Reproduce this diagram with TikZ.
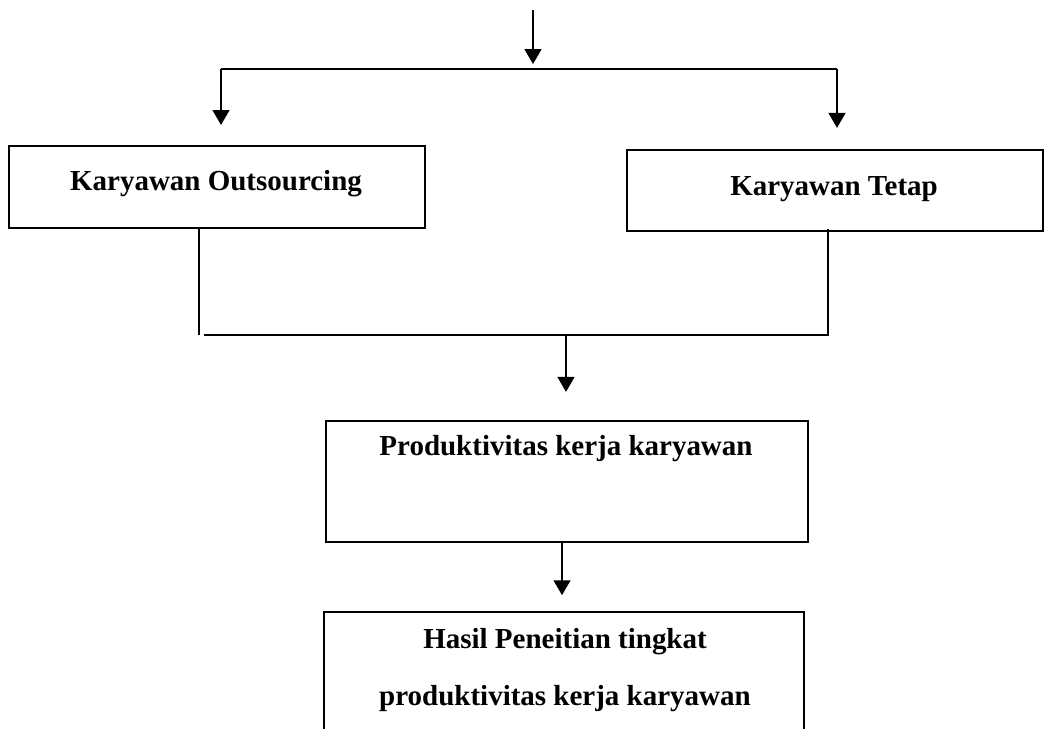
\documentclass[tikz,border=0pt]{standalone}
\usepackage{fontspec}
\setmainfont{Liberation Serif}
\usetikzlibrary{arrows.meta,positioning}

\tikzset{
  box/.style={draw,line width=1.3pt,minimum width=416*0.02cm,inner sep=0pt},
  lbl/.style={font=\bfseries\fontsize{16.5}{32}\selectfont,anchor=base,inner sep=0pt},
  flow/.style={line width=1.3pt},
  arr/.style={flow,-{Triangle[width=9.5pt,length=8.5pt]}}
}

\begin{document}
\begin{tikzpicture}[x=0.02cm,y=-0.02cm]
   \clip (0,0) rectangle (1047,729);
   % boxes
   \node[box,minimum height=82*0.02cm,anchor=north west] (ko) at (8,145) {};
   \node[box,minimum height=81*0.02cm,anchor=north west] (kt) at (626,149) {};
   \node[box,minimum width=482*0.02cm,minimum height=121*0.02cm,anchor=north west] (pk) at (325,420) {};
   \node[box,minimum width=480*0.02cm,minimum height=200*0.02cm,anchor=north west] (hp) at (323,611) {};
   % texts
   \node[lbl] (ko_t) at (216,191) {Karyawan Outsourcing};
   \node[lbl] (kt_t) at (834,196) {Karyawan Tetap};
   \node[lbl] (pk_t) at (566,455) {Produktivitas kerja karyawan};
   \node[lbl] (hp_t1) at (565,648) {Hasil Peneitian tingkat};
   \node[lbl] (hp_t2) at (565,705) {produktivitas kerja karyawan};
   % connector points
   \coordinate (in) at (533,10);
   \coordinate (bl) at (221,69);
   \coordinate (br) at (837,69);
   \coordinate (jl) at (199,335);
   \coordinate (jr) at (828,335);
   \coordinate (jm) at (566,335);
   \coordinate (jb) at (562,541);
   % connectors
   \draw[arr] (in) -- ([yshift=2.8pt]in |- bl);
   \draw[flow] (bl) -- (br);
   \draw[arr] (bl) -- ([yshift=11.4pt]ko.north -| bl);
   \draw[arr] (br) -- ([yshift=12pt]kt.north -| br);
   \draw[flow] (ko.south -| jl) -- (jl);
   \draw[flow] ([xshift=3pt]jl) -- (jr) -- ([yshift=2pt]kt.south -| jr);
   \draw[arr] (jm) -- ([yshift=16pt]pk.north -| jm);
   \draw[arr] (jb) -- ([yshift=9pt]hp.north -| jb);
\end{tikzpicture}
\end{document}
